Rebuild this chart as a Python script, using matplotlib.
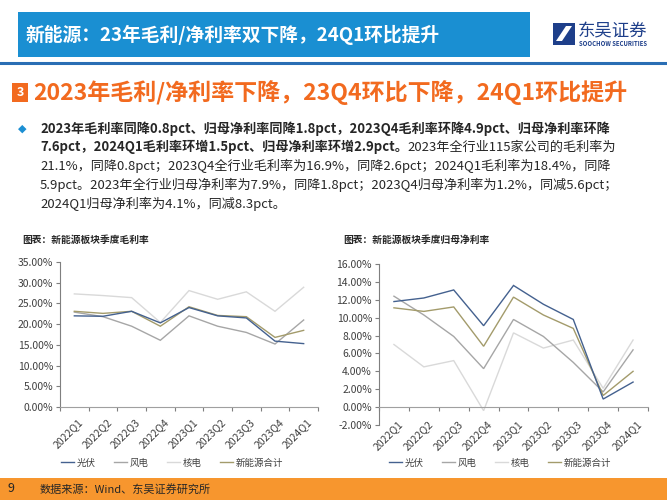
import matplotlib
matplotlib.use("Agg")
import matplotlib.pyplot as plt
import matplotlib.transforms as mtransforms
from matplotlib.patches import Rectangle, Polygon
from matplotlib.lines import Line2D
import numpy as np

plt.rcParams['font.family'] = ['Noto Sans CJK SC', 'DejaVu Sans']

# ---------------- data ----------------
quarters = ['2022Q1', '2022Q2', '2022Q3', '2022Q4', '2023Q1',
            '2023Q2', '2023Q3', '2023Q4', '2024Q1']
series_names = ['光伏', '风电', '核电', '新能源合计']

gm_pv = [22.0, 21.9, 23.1, 20.3, 24.0, 22.0, 21.5, 15.9, 15.3]
gm_wind = [22.9, 21.8, 19.5, 16.1, 22.0, 19.5, 18.0, 15.2, 21.0]
gm_nuclear = [27.3, 26.9, 26.4, 20.4, 28.1, 26.0, 27.8, 23.1, 28.9]
gm_total = [23.1, 22.6, 23.1, 19.5, 24.2, 22.1, 21.8, 16.8, 18.5]

nm_pv = [11.8, 12.2, 13.1, 9.1, 13.6, 11.5, 9.8, 0.9, 2.8]
nm_wind = [12.4, 10.3, 7.9, 4.3, 9.8, 7.9, 5.0, 1.7, 6.4]
nm_nuclear = [7.0, 4.5, 5.2, -0.4, 8.3, 6.6, 7.5, 2.1, 7.5]
nm_total = [11.1, 10.7, 11.2, 6.8, 12.3, 10.3, 8.8, 1.3, 4.0]

gm_ticks = [0, 5, 10, 15, 20, 25, 30, 35]
nm_ticks = [-2, 0, 2, 4, 6, 8, 10, 12, 14, 16]

header_title = '新能源：23年毛利/净利率双下降，24Q1环比提升'
section_no = '3'
section_title = '2023年毛利/净利率下降，23Q4环比下降，24Q1环比提升'
bullet_line1 = '2023年毛利率同降0.8pct、归母净利率同降1.8pct，2023Q4毛利率环降4.9pct、归母净利率环降'
bullet_line2_bold = '7.6pct，2024Q1毛利率环增1.5pct、归母净利率环增2.9pct。'
bullet_line2_reg = '2023年全行业115家公司的毛利率为'
bullet_line3 = '21.1%，同降0.8pct；2023Q4全行业毛利率为16.9%，同降2.6pct；2024Q1毛利率为18.4%，同降'
bullet_line4 = '5.9pct。2023年全行业归母净利率为7.9%，同降1.8pct；2023Q4归母净利率为1.2%，同减5.6pct；'
bullet_line5 = '2024Q1归母净利率为4.1%，同减8.3pct。'
chart1_title = '图表：新能源板块季度毛利率'
chart2_title = '图表：新能源板块季度归母净利率'
source_text = '数据来源：Wind、东吴证券研究所'
page_no = '9'

colors = ['#44618F', '#A6A6A6', '#D9D9D9', '#A39B6B']

W, H = 667, 500
fig = plt.figure(figsize=(W / 100, H / 100), dpi=100)
fig.patch.set_facecolor('white')


def fx(x):
    return x / W


def fy(y):
    return 1 - y / H


def rect_px(x0, y0, x1, y1, **kw):
    fig.patches.append(Rectangle((fx(x0), fy(y1)), fx(x1) - fx(x0), fy(y0) - fy(y1),
                                 transform=fig.transFigure, **kw))


# ---------------- header ----------------
rect_px(18, 12, 530, 57, facecolor='#1A8FD2', edgecolor='none')
fig.text(fx(26), fy(34.5), header_title, color='white', fontsize=13.5,
         fontweight='bold', va='center', ha='left')
fig.add_artist(Line2D([0, 1], [fy(63), fy(63)], transform=fig.transFigure,
                      color='#2A6EB4', lw=2.2))

# logo
rect_px(553, 23, 575, 45, facecolor='#1E3F8A', edgecolor='none')
fig.patches.append(Polygon([(fx(556), fy(41)), (fx(566), fy(26)), (fx(572), fy(26)),
                            (fx(562), fy(41))], closed=True, transform=fig.transFigure,
                           facecolor='white', edgecolor='none'))
fig.text(fx(578), fy(31), '东吴证券', color='#1E3F8A', fontsize=12.5, va='center', ha='left')
fig.text(fx(579), fy(44), 'SOOCHOW SECURITIES', color='#1E3F8A', fontsize=4.3,
         va='center', ha='left', fontweight='bold')

# ---------------- section title ----------------
rect_px(12, 83, 28, 102, facecolor='#F26A1F', edgecolor='none')
fig.text(fx(20), fy(92.5), section_no, color='white', fontsize=9, fontweight='bold',
         va='center', ha='center')
fig.text(fx(33), fy(93), section_title, color='#F26A1F', fontsize=16.6,
         fontweight='bold', va='center', ha='left')

# ---------------- bullet text ----------------
fig.text(fx(22), fy(129), '◆', color='#1C8FD3', fontsize=8, va='center', ha='center',
         family=['DejaVu Sans'])
tc = '#262626'
fs = 9.45
line_y = [129, 147, 166, 185, 204]
fig.text(fx(40), fy(line_y[0]), bullet_line1, color=tc, fontsize=fs, fontweight='bold',
         va='center', ha='left')
t2 = fig.text(fx(40), fy(line_y[1]), bullet_line2_bold, color=tc, fontsize=fs,
              fontweight='bold', va='center', ha='left')
fig.canvas.draw()
r = fig.canvas.get_renderer()
bb = t2.get_window_extent(renderer=r)
fig.text(bb.x1 / fig.bbox.width, fy(line_y[1]), bullet_line2_reg, color=tc, fontsize=fs,
         va='center', ha='left')
fig.text(fx(40), fy(line_y[2]), bullet_line3, color=tc, fontsize=fs, va='center', ha='left')
fig.text(fx(40), fy(line_y[3]), bullet_line4, color=tc, fontsize=fs, va='center', ha='left')
fig.text(fx(40), fy(line_y[4]), bullet_line5, color=tc, fontsize=fs, va='center', ha='left')

# ---------------- charts ----------------
fig.text(fx(22), fy(240), chart1_title, color=tc, fontsize=7, fontweight='bold',
         va='center', ha='left')
fig.text(fx(343), fy(240), chart2_title, color=tc, fontsize=7, fontweight='bold',
         va='center', ha='left')

ax1 = fig.add_axes([fx(60), fy(407), fx(318) - fx(60), fy(262) - fy(407)])
ax2 = fig.add_axes([fx(379), fy(425), fx(648) - fx(379), fy(264) - fy(425)])

x = np.arange(len(quarters))
for ax, data, ticks, label_y in (
        (ax1, [gm_pv, gm_wind, gm_nuclear, gm_total], gm_ticks, 417),
        (ax2, [nm_pv, nm_wind, nm_nuclear, nm_total], nm_ticks, 419)):
    order = [2, 1, 3, 0]
    lines = {}
    for i in order:
        ln, = ax.plot(x, data[i], color=colors[i], lw=1.0, solid_joinstyle='miter',
                      label=series_names[i])
        lines[i] = ln
    ax.set_xlim(-0.5, len(quarters) - 0.5)
    ax.set_ylim(ticks[0], ticks[-1])
    ax.set_yticks(ticks)
    ax.set_yticklabels([f'{t:.2f}%' for t in ticks])
    ax.tick_params(axis='y', direction='out', length=3, width=0.8, colors='#7F7F7F',
                   labelcolor='#404040', labelsize=7.5, pad=2)
    ax.set_xticks([])
    ax.set_xticks(np.arange(-0.5, len(quarters)), minor=True)
    ax.tick_params(axis='x', which='minor', direction='out', length=3, width=0.8,
                   colors='#7F7F7F', labelbottom=False)
    for s in ('top', 'right'):
        ax.spines[s].set_visible(False)
    ax.spines['left'].set_color('#7F7F7F')
    ax.spines['bottom'].set_color('#A0A0A0')
    ax.spines['left'].set_linewidth(0.8)
    ax.spines['bottom'].set_linewidth(0.8)
    if ticks[0] < 0:
        ax.spines['bottom'].set_position(('data', 0))
    ax.patch.set_alpha(0)
    # category labels
    trans = mtransforms.blended_transform_factory(ax.transData, fig.transFigure)
    for i, q in enumerate(quarters):
        ax.text(i + 0.12, fy(label_y), q, transform=trans, rotation=45,
                rotation_mode='anchor', ha='right', va='top', fontsize=7.5,
                color='#404040', clip_on=False)
    ax._legend_handles_saved = [lines[i] for i in range(4)]

# legends
h1 = ax1._legend_handles_saved
h2 = ax2._legend_handles_saved
for hs, cx in ((h1, 172), (h2, 500)):
    fig.legend(hs, series_names, loc='center', bbox_to_anchor=(fx(cx), fy(463)),
               ncol=4, frameon=False, fontsize=6.8, handlelength=1.4,
               handletextpad=0.3, columnspacing=1.9, labelcolor='#404040')

# ---------------- footer ----------------
rect_px(0, 478, 667, 500, facecolor='#F7962E', edgecolor='none')
fig.text(fx(8), fy(489), page_no, color='#262626', fontsize=9, va='center', ha='left')
fig.text(fx(40), fy(489), source_text, color='#262626', fontsize=8, va='center', ha='left')

fig.savefig('out.png', dpi=100, facecolor='white')
